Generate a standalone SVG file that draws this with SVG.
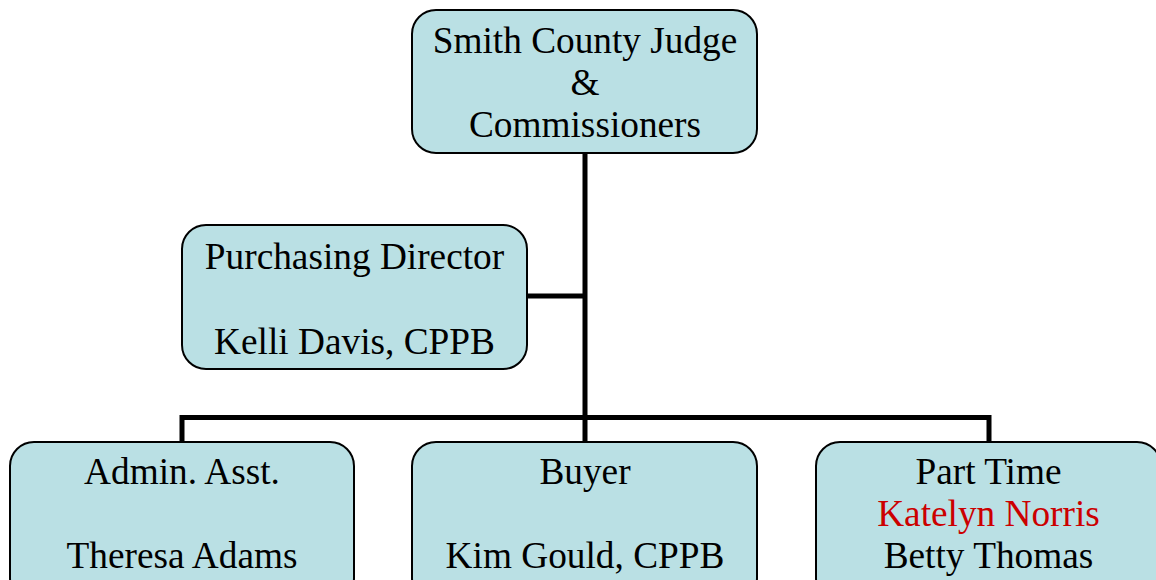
<svg xmlns="http://www.w3.org/2000/svg" width="1156" height="580" viewBox="0 0 1156 580">
<style>
.box{fill:#BAE0E4;stroke:#000;stroke-width:2}
.t{font-family:"Liberation Serif","Times New Roman",serif;font-size:37.3px;fill:#000;text-anchor:middle}
.red{fill:#CC0000}
.c{stroke:#000;stroke-width:5;fill:none}
</style>
<rect width="1156" height="580" fill="#fff"/>
<g id="connectors">
<path class="c" d="M585 153 V442"/>
<path class="c" d="M527 296 H585"/>
<path class="c" d="M182 442 V417.5 H989 V442"/>
</g>
<g id="judge">
<rect class="box" x="412" y="10" width="345" height="143" rx="24"/>
<text class="t" x="585" y="53">Smith County Judge</text>
<text class="t" x="585" y="95">&amp;</text>
<text class="t" x="585" y="137">Commissioners</text>
</g>
<g id="director">
<rect class="box" x="182" y="225" width="345" height="144" rx="24"/>
<text class="t" x="354.5" y="269">Purchasing Director</text>
<text class="t" x="354.5" y="354">Kelli Davis, CPPB</text>
</g>
<g id="admin">
<rect class="box" x="10" y="442" width="344" height="160" rx="24"/>
<text class="t" x="182" y="484">Admin. Asst.</text>
<text class="t" x="182" y="568">Theresa Adams</text>
</g>
<g id="buyer">
<rect class="box" x="412" y="442" width="345" height="160" rx="24"/>
<text class="t" x="585" y="484">Buyer</text>
<text class="t" x="585" y="568">Kim Gould, CPPB</text>
</g>
<g id="parttime">
<rect class="box" x="816" y="442" width="345" height="160" rx="24"/>
<text class="t" x="988.5" y="484">Part Time</text>
<text class="t red" x="988.5" y="526">Katelyn Norris</text>
<text class="t" x="988.5" y="568">Betty Thomas</text>
</g>
</svg>
